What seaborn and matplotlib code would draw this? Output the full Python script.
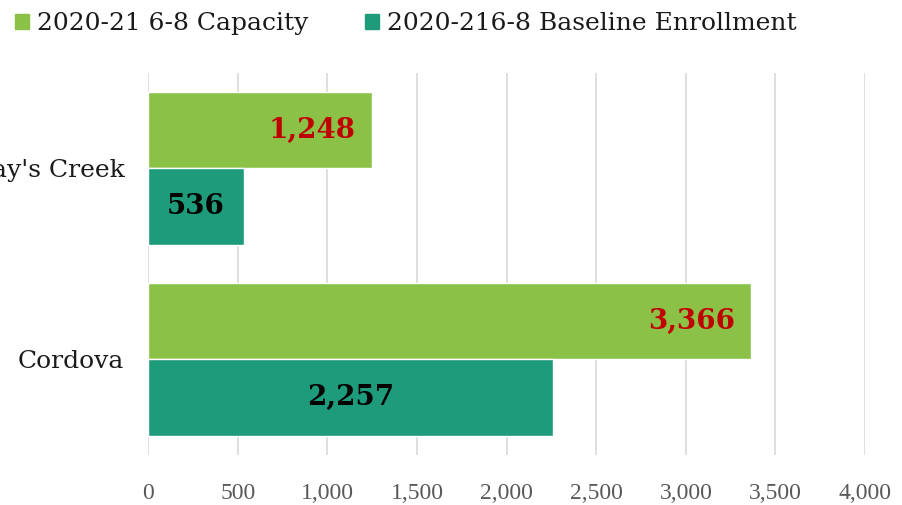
import seaborn as sns
import pandas as pd
import matplotlib.pyplot as plt

schools = ["Gray's Creek", "Cordova"]
series = ["2020-21 6-8 Capacity", "2020-216-8 Baseline Enrollment"]
capacity = [1248, 3366]
enrollment = [536, 2257]
xticks = [0, 500, 1000, 1500, 2000, 2500, 3000, 3500, 4000]

df = pd.DataFrame({
    "school": schools * 2,
    "series": [series[0]] * 2 + [series[1]] * 2,
    "value": capacity + enrollment,
})

sns.set_style("white")
plt.rcParams["font.family"] = ["DejaVu Serif"]

fig = plt.figure(figsize=(9.03, 5.05), dpi=100)
ax = fig.add_axes([0.164, 0.099, 0.794, 0.757])
palette = {series[0]: "#8BC147", series[1]: "#1E9B7A"}
sns.barplot(data=df, y="school", x="value", hue="series", orient="h",
            palette=palette, width=0.8, saturation=1, ax=ax, legend=False)

ax.set_xlim(0, 4000)
ax.set_ylim(1.5, -0.5)
ax.set_xticks(xticks)
ax.set_xticklabels([f"{t:,}" for t in xticks], color="#595959", fontsize=17,
                   family="Liberation Serif")
ax.tick_params(axis="x", length=0, pad=20)
ax.tick_params(axis="y", length=0, pad=17, labelsize=18, labelcolor="#1a1a1a")
ax.set_xlabel("")
ax.set_ylabel("")
ax.grid(axis="x", color="#d9d9d9", linewidth=1.2)
ax.set_axisbelow(True)
for s in ax.spines.values():
    s.set_visible(False)

cap_bars, enr_bars = ax.containers[0], ax.containers[1]
cap_texts = ax.bar_label(cap_bars, labels=[f"{v:,}" for v in capacity],
                         label_type="edge", padding=-12, color="#C00000",
                         fontsize=20, fontweight="bold")
for t in cap_texts:
    t.set_ha("right")
ax.bar_label(enr_bars, labels=[f"{v:,}" for v in enrollment], label_type="center",
             color="black", fontsize=20, fontweight="bold")

handles = [plt.Rectangle((0, 0), 1, 1, color=palette[s]) for s in series]
fig.legend(handles, series, loc="upper left", bbox_to_anchor=(-0.008, 1.02),
           ncol=2, frameon=False, fontsize=18, handlelength=0.55,
           handleheight=0.55, handletextpad=0.3, columnspacing=2.3,
           labelcolor="#1a1a1a")

fig.savefig("out.png", dpi=100)
